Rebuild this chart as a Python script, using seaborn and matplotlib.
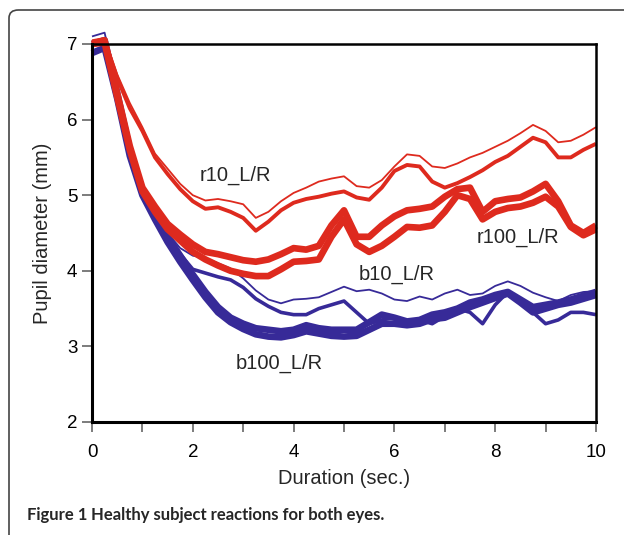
import numpy as np
import pandas as pd
import matplotlib
matplotlib.use("Agg")
import matplotlib.pyplot as plt
from matplotlib.patches import FancyBboxPatch
from matplotlib import font_manager
import seaborn as sns

# ---- data (pupil diameter in mm, sampled every 0.25 s) ----
time_s = [0, .25, .5, .75, 1, 1.25, 1.5, 1.75, 2, 2.25, 2.5, 2.75, 3, 3.25, 3.5, 3.75,
          4, 4.25, 4.5, 4.75, 5, 5.25, 5.5, 5.75, 6, 6.25, 6.5, 6.75, 7, 7.25, 7.5, 7.75,
          8, 8.25, 8.5, 8.75, 9, 9.25, 9.5, 9.75, 10]

r10_L = [7.05, 7.08, 6.6, 6.22, 5.9, 5.55, 5.35, 5.15, 5.0, 4.93, 4.95, 4.92, 4.88, 4.7, 4.78, 4.92,
         5.03, 5.1, 5.18, 5.22, 5.25, 5.12, 5.1, 5.2, 5.38, 5.54, 5.52, 5.38, 5.36, 5.42, 5.5, 5.56,
         5.64, 5.72, 5.82, 5.93, 5.85, 5.7, 5.72, 5.8, 5.9]
r10_R = [7.02, 7.05, 6.55, 6.15, 5.85, 5.5, 5.28, 5.08, 4.92, 4.82, 4.84, 4.78, 4.7, 4.53, 4.65, 4.8,
         4.9, 4.95, 4.98, 5.02, 5.05, 4.97, 4.94, 5.1, 5.32, 5.4, 5.38, 5.18, 5.1, 5.16, 5.24, 5.33,
         5.44, 5.52, 5.64, 5.76, 5.7, 5.5, 5.5, 5.6, 5.68]
r100_L = [7.0, 7.05, 6.35, 5.65, 5.1, 4.85, 4.62, 4.48, 4.35, 4.25, 4.22, 4.18, 4.14, 4.12, 4.15, 4.22,
          4.3, 4.28, 4.33, 4.6, 4.8, 4.45, 4.45, 4.6, 4.72, 4.8, 4.82, 4.85, 4.98, 5.08, 5.1, 4.78,
          4.92, 4.95, 4.97, 5.05, 5.15, 4.92, 4.6, 4.5, 4.6]
r100_R = [7.0, 7.02, 6.3, 5.6, 5.05, 4.78, 4.55, 4.4, 4.25, 4.15, 4.07, 4.0, 3.96, 3.93, 3.93, 4.02,
          4.12, 4.13, 4.15, 4.45, 4.68, 4.35, 4.25, 4.33, 4.45, 4.58, 4.57, 4.6, 4.78, 5.0, 4.95, 4.68,
          4.78, 4.83, 4.85, 4.9, 4.98, 4.85, 4.58, 4.47, 4.55]
b10_L = [7.1, 7.15, 6.4, 5.65, 5.1, 4.78, 4.5, 4.3, 4.2, 4.17, 4.1, 4.03, 3.9, 3.74, 3.62, 3.57,
         3.62, 3.63, 3.65, 3.72, 3.79, 3.73, 3.75, 3.7, 3.62, 3.6, 3.66, 3.62, 3.7, 3.75, 3.68, 3.7,
         3.8, 3.86, 3.8, 3.71, 3.65, 3.6, 3.68, 3.72, 3.73]
b10_R = [6.9, 6.95, 6.3, 5.6, 5.05, 4.72, 4.45, 4.22, 4.02, 3.97, 3.92, 3.88, 3.78, 3.63, 3.53, 3.45,
         3.42, 3.42, 3.5, 3.55, 3.6, 3.45, 3.3, 3.35, 3.38, 3.32, 3.35, 3.3, 3.4, 3.5, 3.45, 3.3,
         3.55, 3.72, 3.6, 3.45, 3.3, 3.35, 3.45, 3.45, 3.42]
b100_L = [7.0, 7.05, 6.35, 5.6, 5.05, 4.73, 4.45, 4.2, 3.95, 3.72, 3.52, 3.38, 3.3, 3.24, 3.22, 3.2,
          3.22, 3.28, 3.24, 3.22, 3.22, 3.22, 3.32, 3.42, 3.38, 3.33, 3.35, 3.42, 3.45, 3.5, 3.58, 3.62,
          3.68, 3.72, 3.62, 3.52, 3.55, 3.58, 3.62, 3.67, 3.72]
b100_R = [6.88, 6.95, 6.28, 5.52, 5.0, 4.68, 4.38, 4.12, 3.88, 3.65, 3.45, 3.32, 3.23, 3.16, 3.13, 3.12,
          3.15, 3.2, 3.17, 3.14, 3.13, 3.14, 3.22, 3.3, 3.3, 3.28, 3.3, 3.36, 3.38, 3.45, 3.52, 3.58,
          3.64, 3.7, 3.58, 3.45, 3.5, 3.55, 3.58, 3.63, 3.68]

group_labels = ["r10_L/R", "r100_L/R", "b10_L/R", "b100_L/R"]
x_ticks = [0, 2, 4, 6, 8, 10]
y_ticks = [2, 3, 4, 5, 6, 7]

RED = "#DE2A1E"
BLUE = "#372A98"

series = [
    ("b100_L", b100_L, BLUE, 4.8),
    ("b100_R", b100_R, BLUE, 4.8),
    ("b10_R", b10_R, BLUE, 2.6),
    ("b10_L", b10_L, BLUE, 1.3),
    ("r100_L", r100_L, RED, 4.8),
    ("r100_R", r100_R, RED, 4.8),
    ("r10_R", r10_R, RED, 2.8),
    ("r10_L", r10_L, RED, 1.3),
]

sns.set_style("ticks")
plt.rcParams["font.family"] = ["Liberation Sans", "DejaVu Sans"]

W, H = 624, 535
fig = plt.figure(figsize=(W / 100, H / 100), dpi=100)
ax = fig.add_axes([92 / W, 1 - 422 / H, 504 / W, 378 / H])

for name, vals, col, lw in series:
    df = pd.DataFrame({"t": time_s, "d": vals})
    sns.lineplot(data=df, x="t", y="d", ax=ax, color=col, linewidth=lw,
                 clip_on=False, solid_joinstyle="round", solid_capstyle="butt")

ax.set_xlim(0, 10)
ax.set_ylim(2, 7)
ax.set_xticks(x_ticks)
ax.set_xticks([1, 3, 5, 7, 9], minor=True)
ax.set_yticks(y_ticks)
ax.tick_params(axis="both", which="both", direction="out", length=7.5, width=1.2,
               color="#666666", labelsize=13.5, labelcolor="black")
ax.tick_params(axis="x", which="both", pad=8)
ax.tick_params(axis="y", which="both", pad=3)
ax.set_xlabel("Duration (sec.)", fontsize=14.5, labelpad=6)
ax.set_ylabel("Pupil diameter (mm)", fontsize=14.5, labelpad=11)
for s in ax.spines.values():
    s.set_visible(True)
    s.set_color("black")
    s.set_linewidth(1.8)
ax.spines["left"].set_linewidth(2.2)
ax.spines["bottom"].set_linewidth(2.2)

ax.text(2.84, 5.26, group_labels[0], fontsize=14.5, ha="center", va="center")
ax.text(8.45, 4.44, group_labels[1], fontsize=14.5, ha="center", va="center")
ax.text(6.05, 3.95, group_labels[2], fontsize=14.5, ha="center", va="center")
ax.text(3.71, 2.78, group_labels[3], fontsize=14.5, ha="center", va="center")

# rounded frame around figure (open at right and bottom)
frame = FancyBboxPatch((9 / W, -0.2), 1.2, 1 - 10 / H + 0.2,
                       boxstyle="round,pad=0,rounding_size=0.015",
                       transform=fig.transFigure, fill=False,
                       edgecolor="#444444", linewidth=1.2, clip_on=False)
fig.patches.append(frame)

# caption: bold, fitted to reference width
installed = {f.name for f in font_manager.fontManager.ttflist}
cap_font = [f for f in ["Liberation Sans Narrow", "Lato", "DejaVu Sans"] if f in installed] or ["DejaVu Sans"]
x0, x_end, base_y = 27, 385, 520
fs = 14.0
renderer = fig.canvas.get_renderer()
for _ in range(5):
    t1 = fig.text(x0 / W, 1 - base_y / H, "Figure 1", fontsize=fs, fontweight="bold",
                  family=cap_font, va="baseline", ha="left")
    e1 = t1.get_window_extent(renderer)
    gap = fs * 0.3
    t2 = fig.text((e1.x1 + gap) / W, 1 - base_y / H, "Healthy subject reactions for both eyes.",
                  fontsize=fs, fontweight="bold", family=cap_font, va="baseline", ha="left")
    e2 = t2.get_window_extent(renderer)
    total = e2.x1 - x0
    target = x_end - x0
    if abs(total - target) < 1.5:
        break
    t1.remove()
    t2.remove()
    fs *= target / total

fig.savefig("out.png", dpi=100)
